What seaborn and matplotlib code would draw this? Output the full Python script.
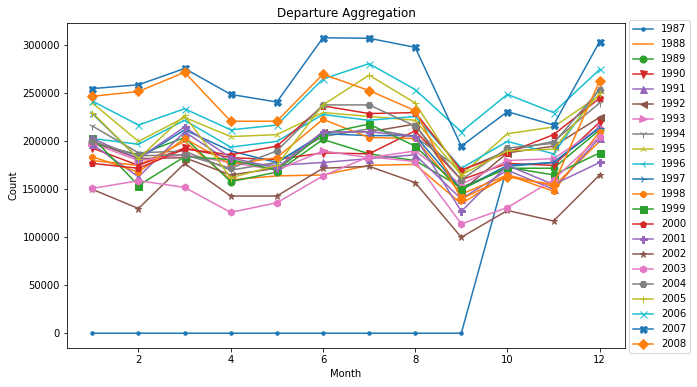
import matplotlib
matplotlib.use('Agg')
import matplotlib.pyplot as plt
import seaborn as sns
import pandas as pd

months = [1, 2, 3, 4, 5, 6, 7, 8, 9, 10, 11, 12]
years = list(range(1987, 2009))

y1987 = [0, 0, 0, 0, 0, 0, 0, 0, 0, 174000, 178000, 215000]
y1988 = [180000, 175000, 200000, 160000, 164000, 165000, 175000, 176000, 135000, 165000, 153000, 200000]
y1989 = [198000, 186000, 204000, 158000, 168000, 202000, 187000, 180000, 152000, 172000, 172000, 212000]
y1990 = [193000, 175000, 193000, 183000, 181000, 188000, 187000, 211000, 160000, 177000, 175000, 220000]
y1991 = [197000, 163000, 210000, 178000, 175000, 178000, 182000, 186000, 140000, 170000, 150000, 204000]
y1992 = [200000, 182000, 183000, 165000, 172000, 210000, 210000, 218000, 148000, 188000, 195000, 225000]
y1993 = [198000, 180000, 186000, 178000, 170000, 190000, 183000, 190000, 155000, 180000, 182000, 214000]
y1994 = [216000, 188000, 190000, 170000, 178000, 205000, 213000, 205000, 170000, 190000, 200000, 240000]
y1995 = [240000, 200000, 225000, 205000, 207000, 230000, 226000, 222000, 165000, 208000, 215000, 248000]
y1996 = [203000, 197000, 222000, 194000, 200000, 228000, 222000, 226000, 172000, 200000, 187000, 255000]
y1997 = [229000, 182000, 212000, 190000, 178000, 208000, 206000, 206000, 150000, 175000, 178000, 214000]
y1998 = [184000, 168000, 203000, 176000, 183000, 223000, 204000, 203000, 145000, 165000, 148000, 210000]
y1999 = [204000, 154000, 184000, 181000, 170000, 208000, 218000, 195000, 150000, 173000, 165000, 188000]
y2000 = [177000, 172000, 192000, 186000, 195000, 237000, 229000, 230000, 170000, 188000, 207000, 245000]
y2001 = [203000, 182000, 215000, 183000, 172000, 210000, 210000, 205000, 127000, 175000, 155000, 178000]
y2002 = [150000, 130000, 177000, 143000, 143000, 172000, 174000, 157000, 100000, 128000, 117000, 165000]
y2003 = [151000, 159000, 152000, 126000, 136000, 164000, 184000, 179000, 114000, 131000, 160000, 205000]
y2004 = [200000, 185000, 186000, 172000, 190000, 238000, 238000, 216000, 160000, 193000, 198000, 254000]
y2005 = [230000, 182000, 227000, 162000, 175000, 238000, 269000, 240000, 165000, 190000, 192000, 250000]
y2006 = [242000, 217000, 234000, 212000, 217000, 265000, 281000, 254000, 210000, 249000, 230000, 275000]
y2007 = [255000, 259000, 276000, 249000, 241000, 308000, 307500, 298000, 195000, 231000, 217000, 304000]
y2008 = [247000, 252000, 272000, 221000, 221000, 270000, 253000, 232000, 140000, 163000, 155000, 263000]

counts = [y1987, y1988, y1989, y1990, y1991, y1992, y1993, y1994, y1995, y1996, y1997,
          y1998, y1999, y2000, y2001, y2002, y2003, y2004, y2005, y2006, y2007, y2008]

markers = ['.', ',', 'o', 'v', '^', '<', '>', '1', '2', '3', '4', '8',
           's', 'p', 'P', '*', 'h', 'H', '+', 'x', 'X', 'D']
palette = sns.color_palette('tab10', 10)

fig, ax = plt.subplots(figsize=(697 / 72, 387 / 72), dpi=72)
fig.subplots_adjust(left=67 / 697, right=625 / 697, top=1 - 23 / 387, bottom=1 - 348 / 387)

for i, (year, vals) in enumerate(zip(years, counts)):
    df = pd.DataFrame({'Month': months, 'Count': vals})
    c = palette[i % 10]
    sns.lineplot(data=df, x='Month', y='Count', marker=markers[i], color=c,
                 markeredgecolor=c, markeredgewidth=1.0, markersize=7,
                 label=str(year), ax=ax)

ax.set_title('Departure Aggregation')
ax.set_xlabel('Month')
ax.set_ylabel('Count')
ax.legend(loc='upper left', bbox_to_anchor=(1.007, 1.009), borderaxespad=0)

fig.savefig('out.png', dpi=72)
